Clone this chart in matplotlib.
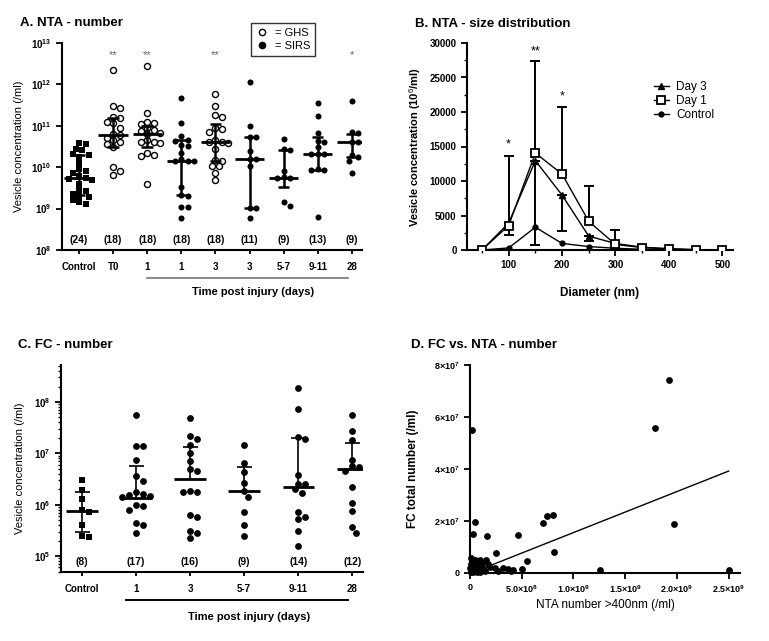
import numpy as np
import matplotlib
matplotlib.use("Agg")
import matplotlib.pyplot as plt
from matplotlib.lines import Line2D
from matplotlib.ticker import FixedLocator, MultipleLocator, LogLocator, NullFormatter

plt.rcParams['font.family'] = ['Liberation Sans', 'DejaVu Sans']
plt.rcParams['mathtext.fontset'] = 'custom'
plt.rcParams['mathtext.rm'] = 'Liberation Sans'
plt.rcParams['mathtext.bf'] = 'Liberation Sans:bold'
plt.rcParams['mathtext.it'] = 'Liberation Sans:italic'

# ---------------- Panel A: NTA number (log10 values) ----------------
a_labels = ["Control", "T0", "1", "1", "3", "3", "5-7", "9-11", "28"]
a_counts = ["(24)", "(18)", "(18)", "(18)", "(18)", "(11)", "(9)", "(13)", "(9)"]
a_stars = ["", "**", "**", "", "**", "", "", "", "*"]
a_ghs = [False, True, True, False, True, False, False, False, False]
a_control = [10.58, 10.55, 10.45, 10.42, 10.32, 10.3, 10.25, 10.1, 9.95, 9.9, 9.85, 9.78,
             9.75, 9.72, 9.68, 9.6, 9.45, 9.42, 9.35, 9.3, 9.28, 9.2, 9.15, 9.1]
a_t0 = [12.35, 11.48, 11.43, 11.22, 11.2, 11.1, 11.07, 10.95, 10.8, 10.77, 10.7, 10.65,
        10.62, 10.55, 10.5, 10.0, 9.9, 9.82]
a_d1_ghs = [12.44, 11.31, 11.1, 11.07, 11.05, 10.95, 10.9, 10.88, 10.82, 10.8, 10.65, 10.62,
            10.6, 10.58, 10.35, 10.3, 10.28, 9.59]
a_d1_sirs = [11.68, 11.07, 10.75, 10.66, 10.64, 10.53, 10.51, 10.35, 10.2, 10.16, 10.15,
             10.14, 9.52, 9.32, 9.31, 9.03, 9.03, 8.77]
a_d3_ghs = [11.77, 11.48, 11.27, 11.21, 10.95, 10.93, 10.85, 10.65, 10.62, 10.6, 10.58,
            10.44, 10.17, 10.15, 10.04, 10.02, 9.85, 9.7]
a_d3_sirs = [12.07, 11.0, 10.74, 10.72, 10.39, 10.21, 10.19, 10.04, 9.02, 9.02, 8.77]
a_d57 = [10.69, 10.43, 10.41, 9.92, 9.76, 9.75, 9.74, 9.15, 9.06]
a_d911 = [11.55, 11.23, 10.82, 10.63, 10.61, 10.48, 10.33, 10.32, 10.31, 9.95, 9.94, 9.93, 8.8]
a_d28 = [11.6, 10.84, 10.82, 10.62, 10.6, 10.3, 10.25, 10.16, 9.85]
a_groups = [a_control, a_t0, a_d1_ghs, a_d1_sirs, a_d3_ghs, a_d3_sirs, a_d57, a_d911, a_d28]
a_med = [9.74, 10.78, 10.81, 10.15, 10.6, 10.21, 9.75, 10.32, 10.6]
a_q3 = [10.3, 11.2, 11.0, 10.65, 11.04, 10.73, 10.42, 10.73, 10.81]
a_q1 = [9.33, 10.5, 10.5, 9.32, 10.14, 9.02, 9.53, 9.94, 10.24]

# ---------------- Panel B: size distribution ----------------
b_diam = [50, 100, 150, 200, 250, 300, 350, 400, 450, 500]
b_day3 = [0, 3900, 12950, 7950, 2000, 950, 400, 200, 50, 20]
b_day1 = [0, 3550, 14050, 11000, 4150, 800, 350, 150, 30, 10]
b_control = [0, 300, 3300, 950, 500, 250, 100, 50, 20, 10]
b_day1_upper = [0, 13600, 27400, 20700, 9250, 2900, 700, 300, 0, 0]
b_day3_lower = [0, 2200, 700, 2800, 1250, 950, 400, 200, 50, 20]
b_star_x = [100, 150, 200]
b_star_y = [15300, 28800, 22300]
b_star_txt = ["*", "**", "*"]

# ---------------- Panel C: FC number (log10 values) ----------------
c_labels = ["Control", "1", "3", "5-7", "9-11", "28"]
c_counts = ["(8)", "(17)", "(16)", "(9)", "(14)", "(12)"]
c_control = [6.48, 6.28, 6.12, 5.9, 5.85, 5.6, 5.39, 5.37]
c_d1 = [7.74, 7.15, 7.14, 6.87, 6.55, 6.46, 6.25, 6.2, 6.18, 6.16, 6.15, 6.0, 5.97,
        5.9, 5.64, 5.61, 5.45]
c_d3 = [7.69, 7.33, 7.27, 7.17, 7.01, 6.85, 6.69, 6.66, 6.27, 6.25, 6.25, 5.79, 5.77,
        5.48, 5.45, 5.35]
c_d57 = [7.16, 6.81, 6.64, 6.42, 6.27, 6.15, 5.85, 5.61, 5.4]
c_d911 = [8.27, 7.86, 7.32, 7.27, 6.57, 6.41, 6.4, 6.3, 6.23, 5.85, 5.76, 5.72, 5.48, 5.19]
c_d28 = [7.74, 7.43, 7.26, 6.88, 6.75, 6.74, 6.66, 6.35, 6.03, 5.88, 5.56, 5.45]
c_groups = [c_control, c_d1, c_d3, c_d57, c_d911, c_d28]
c_med = [5.88, 6.14, 6.5, 6.27, 6.35, 6.69]
c_q3 = [6.25, 6.75, 7.12, 6.74, 7.29, 7.2]
c_q1 = [5.46, np.nan, np.nan, np.nan, np.nan, np.nan]

# ---------------- Panel D: FC vs NTA ----------------
d_nta = [0.16, 19.2, 17.9, 19.7, 25.0, 12.6, 8.0, 7.42, 7.03, 8.13, 4.61, 5.48, 5.0, 2.52,
         1.55, 1.68, 0.48, 0.32, 0.05, 0.97, 1.77, 2.42, 3.23, 3.71, 4.19, 3.94, 1.94, 1.29,
         0.06, 0.16, 0.02, 0.26, 0.42, 0.58, 0.71, 0.84, 1.03, 1.23, 1.45, 0.32, 0.65, 0.97,
         0.1, 0.48, 1.13, 2.74, 0.06]          # x 1e8 /ml
d_fc = [55.0, 74.2, 55.6, 19.0, 1.0, 1.0, 22.5, 21.8, 19.3, 8.1, 14.8, 4.6, 1.7, 7.8,
        4.9, 14.3, 19.5, 15.0, 5.8, 5.1, 3.6, 2.1, 2.1, 1.4, 1.0, 0.8, 2.3, 1.7,
        3.6, 2.8, 2.1, 1.7, 3.0, 3.6, 2.1, 1.3, 2.3, 1.5, 0.8, 0.5, 0.3, 0.5,
        1.0, 4.9, 4.0, 0.8, 0.3]               # x 1e6 /ml
d_fit_x = [0.9, 25.0]
d_fit_y = [1.2, 39.2]

fig = plt.figure(figsize=(7.69, 6.41), dpi=100)
W, H = 769, 641


def ax_px(l, t, r, b):
    return fig.add_axes([l / W, 1 - b / H, (r - l) / W, (b - t) / H])


def style(ax):
    for s in ["top", "right"]:
        ax.spines[s].set_visible(False)
    for s in ["left", "bottom"]:
        ax.spines[s].set_linewidth(1.5)
    ax.tick_params(direction="out", width=1.3, length=4, labelsize=7)
    ax.tick_params(which="minor", direction="out", width=1.0, length=2.5)
    for lab in ax.get_xticklabels() + ax.get_yticklabels():
        lab.set_fontweight("bold")


def swarm(ax, xc, vals, diam):
    # spread points sideways so they don't pile up (pixel space)
    pts = ax.transData.transform(np.column_stack([np.full(len(vals), xc), vals]))
    x0 = pts[0, 0]
    placed = []
    out = np.zeros(len(vals))
    order = np.argsort(-pts[:, 1])
    steps = [0]
    for k in range(1, 12):
        steps += [k * diam * 0.5, -k * diam * 0.5]
    for i in order:
        y = pts[i, 1]
        for st in steps:
            x = x0 + st
            if all((x - px) ** 2 + (y - py) ** 2 >= (diam * 0.93) ** 2 for px, py in placed):
                break
        placed.append((x, y))
        out[i] = x
    back = ax.transData.inverted().transform(np.column_stack([out, pts[:, 1]]))
    return back[:, 0]


def stats(ax, i, med, q1, q3, mw, cw, lw_med, lw_bar):
    ax.hlines(med, i - mw, i + mw, color="k", lw=lw_med, zorder=4)
    ax.vlines(i, med, q3, color="k", lw=lw_bar, zorder=4)
    ax.hlines(q3, i - cw, i + cw, color="k", lw=lw_bar, zorder=4)
    if not np.isnan(q1):
        ax.vlines(i, q1, med, color="k", lw=lw_bar, zorder=4)
        ax.hlines(q1, i - cw, i + cw, color="k", lw=lw_bar, zorder=4)


# ======== A ========
axA = ax_px(62, 43, 362, 250)
axA.set_yscale("log")
axA.set_ylim(1e8, 1e13)
axA.set_xlim(-0.5, 8.3)
axA.set_yticks([10.0 ** k for k in range(8, 14)])
axA.set_yticklabels([r"$\mathbf{10^{%d}}$" % k for k in range(8, 14)])
axA.yaxis.set_minor_formatter(NullFormatter())
axA.yaxis.set_minor_locator(FixedLocator([]))
axA.set_xticks(range(9))
axA.set_xticklabels(a_labels)
style(axA)
axA.tick_params(axis="x", length=3, pad=6)
for i, g in enumerate(a_groups):
    yv = 10.0 ** np.array(g)
    xs = swarm(axA, i, yv, 6.5)
    if a_ghs[i]:
        axA.scatter(xs, yv, s=19, facecolors="white", edgecolors="k", linewidths=1.0, zorder=3)
    elif i == 0:
        axA.scatter(xs, yv, s=21, marker="s", color="k", zorder=3, linewidths=0)
    else:
        axA.scatter(xs, yv, s=19, color="k", zorder=3, linewidths=0)
    stats(axA, i, 10 ** a_med[i], 10 ** a_q1[i], 10 ** a_q3[i], 0.43, 0.17, 2.0, 1.8)
    axA.text(i, 10 ** 8.25, a_counts[i], ha="center", va="center", fontsize=7.5, fontweight="bold")
    if a_stars[i]:
        axA.text(i, 10 ** 12.72, a_stars[i], ha="center", va="center", fontsize=8, color="#666666")
axA.set_ylabel("Vesicle concentration (/ml)", fontsize=8)
axA.yaxis.set_label_coords(-0.125, 0.5)
axA.plot([2, 7.9], [-0.135, -0.135], color="#777777", lw=1.2, transform=axA.get_xaxis_transform(),
         clip_on=False)
axA.text(5.1, -0.205, "Time post injury (days)", ha="center", va="center", fontsize=8,
         fontweight="bold", transform=axA.get_xaxis_transform())
fig.legend([Line2D([], [], marker="o", ls="none", mfc="white", mec="k", ms=4.5),
            Line2D([], [], marker="o", ls="none", mfc="k", mec="k", ms=4.5)],
           ["= GHS", "= SIRS"], loc="upper left", bbox_to_anchor=(251 / W, 1 - 23 / H),
           fontsize=8, frameon=True, fancybox=False, edgecolor="k", handlelength=1.0,
           handletextpad=0.7, borderpad=0.45, labelspacing=0.25, borderaxespad=0)
fig.text(20 / W, 1 - 23 / H, "A. NTA - number", fontsize=9.5, fontweight="bold", va="center")

# ======== B ========
axB = ax_px(467, 43, 733, 250)
axB.set_xlim(22, 520)
axB.set_ylim(0, 30000)
axB.set_xticks([100, 200, 300, 400, 500])
axB.xaxis.set_minor_locator(MultipleLocator(50))
axB.set_yticks(range(0, 30001, 5000))
axB.yaxis.set_minor_locator(MultipleLocator(2500))
style(axB)
up = np.array(b_day1_upper) - np.array(b_day1)
up[up < 0] = 0
lo = np.array(b_day3) - np.array(b_day3_lower)
lo[lo < 0] = 0
axB.errorbar(b_diam, b_day1, yerr=[np.zeros(len(up)), up], fmt="none", ecolor="k", elinewidth=1.4,
             capsize=3.5, capthick=1.4, zorder=2)
axB.errorbar(b_diam, b_day3, yerr=[lo, np.zeros(len(lo))], fmt="none", ecolor="k", elinewidth=1.4,
             capsize=3.5, capthick=1.4, zorder=2)
axB.plot(b_diam, b_control, color="k", lw=1.0, marker="o", ms=3.5, zorder=3, label="Control")
axB.plot(b_diam, b_day3, color="k", lw=1.0, marker="^", ms=4.5, zorder=4, label="Day 3")
axB.plot(b_diam, b_day1, color="k", lw=1.0, marker="s", ms=5.5, mfc="white", mew=1.3, zorder=5,
         label="Day 1")
for x, y, t in zip(b_star_x, b_star_y, b_star_txt):
    axB.text(x, y, t, ha="center", va="center", fontsize=9)
hB, lB = axB.get_legend_handles_labels()
axB.legend([hB[1], hB[2], hB[0]], [lB[1], lB[2], lB[0]], loc="upper left",
           bbox_to_anchor=(649 / W, 1 - 76 / H), bbox_transform=fig.transFigure, frameon=False,
           fontsize=8.5, handlelength=1.3, handletextpad=0.6, labelspacing=0.2, borderaxespad=0)
axB.set_ylabel(r"Vesicle concentration (10$^{6}$/ml)", fontsize=8, fontweight="bold")
axB.yaxis.set_label_coords(-0.165, 0.5)
axB.set_xlabel("Diameter (nm)", fontsize=8.5, fontweight="bold")
axB.xaxis.set_label_coords(0.5, -0.18)
fig.text(415 / W, 1 - 24 / H, "B. NTA - size distribution", fontsize=9.5, fontweight="bold",
         va="center")

# ======== C ========
axC = ax_px(61, 365, 363, 572)
axC.set_yscale("log")
axC.set_ylim(10 ** 4.69, 10 ** 8.72)
axC.set_xlim(-0.39, 5.2)
axC.set_yticks([10.0 ** k for k in range(5, 9)])
axC.set_yticklabels([r"$\mathbf{10^{%d}}$" % k for k in range(5, 9)])
axC.yaxis.set_minor_locator(LogLocator(base=10, subs=np.arange(2, 10)))
axC.yaxis.set_minor_formatter(NullFormatter())
axC.set_xticks(range(6))
axC.set_xticklabels(c_labels)
style(axC)
axC.tick_params(axis="x", length=3, pad=6)
for i, g in enumerate(c_groups):
    yv = 10.0 ** np.array(g)
    xs = swarm(axC, i, yv, 7.0)
    if i == 0:
        axC.scatter(xs, yv, s=24, marker="s", color="k", zorder=3, linewidths=0)
    else:
        axC.scatter(xs, yv, s=24, color="k", zorder=3, linewidths=0)
    stats(axC, i, 10 ** c_med[i], 10 ** c_q1[i], 10 ** c_q3[i], 0.29, 0.14, 2.0, 1.2)
    axC.text(i, 10 ** 4.88, c_counts[i], ha="center", va="center", fontsize=7.5, fontweight="bold")
axC.set_ylabel("Vesicle concentration (/ml)", fontsize=8)
axC.yaxis.set_label_coords(-0.12, 0.5)
axC.plot([0.82, 4.93], [-0.135, -0.135], color="k", lw=1.4, transform=axC.get_xaxis_transform(),
         clip_on=False)
axC.text(3.1, -0.215, "Time post injury (days)", ha="center", va="center", fontsize=8,
         fontweight="bold", transform=axC.get_xaxis_transform())
fig.text(18 / W, 1 - 345 / H, "C. FC - number", fontsize=9.5, fontweight="bold", va="center")

# ======== D ========
axD = ax_px(470, 365, 740, 573)
axD.set_xlim(0, 2.61e9)
axD.set_ylim(0, 8e7)
axD.set_xticks([0, 5e8, 1e9, 1.5e9, 2e9, 2.5e9])
axD.set_xticklabels(["0", r"$\mathbf{5.0{\times}10^{8}}$", r"$\mathbf{1.0{\times}10^{9}}$",
                     r"$\mathbf{1.5{\times}10^{9}}$", r"$\mathbf{2.0{\times}10^{9}}$",
                     r"$\mathbf{2.5{\times}10^{9}}$"])
axD.set_yticks([0, 2e7, 4e7, 6e7, 8e7])
axD.set_yticklabels(["0", r"$\mathbf{2{\times}10^{7}}$", r"$\mathbf{4{\times}10^{7}}$",
                     r"$\mathbf{6{\times}10^{7}}$", r"$\mathbf{8{\times}10^{7}}$"])
style(axD)
axD.tick_params(labelsize=6.5)
axD.scatter(np.array(d_nta) * 1e8, np.array(d_fc) * 1e6, s=24, color="k", zorder=3,
            linewidths=0, clip_on=False)
axD.plot(np.array(d_fit_x) * 1e8, np.array(d_fit_y) * 1e6, color="k", lw=1.0, zorder=2)
axD.set_ylabel("FC total number (/ml)", fontsize=8.5, fontweight="bold")
axD.yaxis.set_label_coords(-0.19, 0.5)
axD.set_xlabel("NTA number >400nm (/ml)", fontsize=8.5)
axD.xaxis.set_label_coords(0.5, -0.125)
fig.text(411 / W, 1 - 345 / H, "D. FC vs. NTA - number", fontsize=9.5, fontweight="bold",
         va="center")

fig.savefig("out.png", dpi=100)
